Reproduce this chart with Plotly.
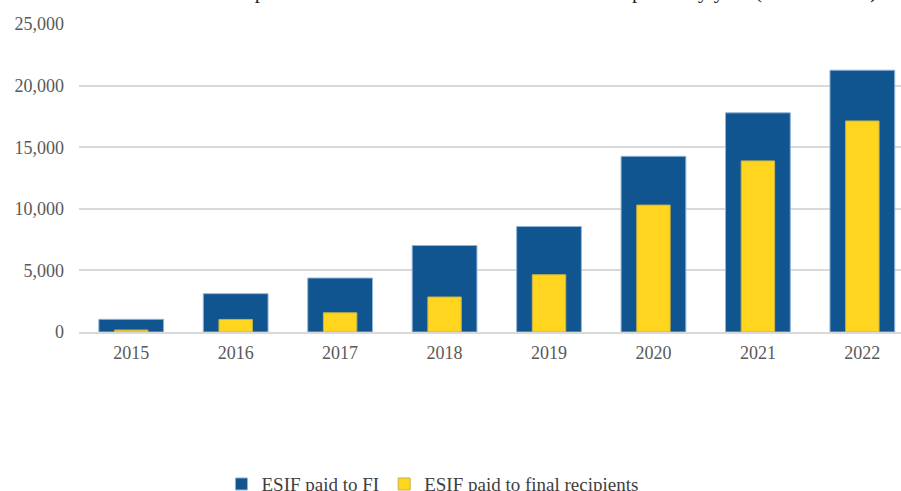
import plotly.graph_objects as go

# ESIF payments by year (EUR million)
years = ["2015", "2016", "2017", "2018", "2019", "2020", "2021", "2022"]
paid_to_fi = [1030, 3110, 4380, 7020, 8560, 14260, 17790, 21250]
paid_to_recipients = [160, 1020, 1560, 2840, 4650, 10300, 13890, 17130]

BLUE = "#10558F"
YELLOW = "#FFD520"
GRID = "#D9D9D9"
TICK = "#595959"
FONT = "Liberation Serif, Times New Roman, serif"

fig = go.Figure()
fig.add_trace(
    go.Bar(
        x=years,
        y=paid_to_fi,
        name="ESIF paid to FI",
        width=0.62,
        marker=dict(color=BLUE, line=dict(color="#8FB3D9", width=1)),
    )
)
fig.add_trace(
    go.Bar(
        x=years,
        y=paid_to_recipients,
        name="ESIF paid to final recipients",
        width=0.32,
        marker=dict(color=YELLOW, line=dict(color="#C9B24A", width=1)),
    )
)

# title sits mostly above the visible page, only its descenders show
fig.add_annotation(
    text="Cumulative ESIF paid to financial instruments and to final recipients by year (EUR million)",
    xref="paper",
    yref="paper",
    x=0.5,
    y=1.062,
    xanchor="center",
    yanchor="bottom",
    showarrow=False,
    font=dict(family=FONT, size=21, color="#222222"),
)

fig.update_layout(
    width=901,
    height=491,
    barmode="overlay",
    paper_bgcolor="white",
    plot_bgcolor="white",
    margin=dict(l=79, r=0, t=24, b=159, autoexpand=False),
    font=dict(family=FONT, size=18, color=TICK),
    showlegend=True,
    legend=dict(
        orientation="h",
        xanchor="center",
        x=0.43,
        yref="container",
        y=0.014,
        yanchor="middle",
        font=dict(family=FONT, size=19, color="#404040"),
        itemwidth=30,
        traceorder="normal",
    ),
    xaxis=dict(
        type="category",
        range=[-0.5, 7.37],
        automargin=False,
        showgrid=False,
        showline=True,
        linecolor=GRID,
        linewidth=1.5,
        ticks="",
        ticklabelstandoff=4,
        tickfont=dict(family=FONT, size=18, color=TICK),
    ),
    yaxis=dict(
        range=[0, 25000],
        dtick=5000,
        tickformat=",",
        automargin=False,
        showgrid=True,
        gridcolor=GRID,
        gridwidth=1.5,
        zeroline=False,
        ticks="",
        ticklabelstandoff=14,
        tickfont=dict(family=FONT, size=18, color=TICK),
    ),
)

# body margin would push the fixed-size figure off the window
fig.write_html(
    "out.html",
    config={"displayModeBar": False},
    post_script="document.body.style.margin='0';",
)
